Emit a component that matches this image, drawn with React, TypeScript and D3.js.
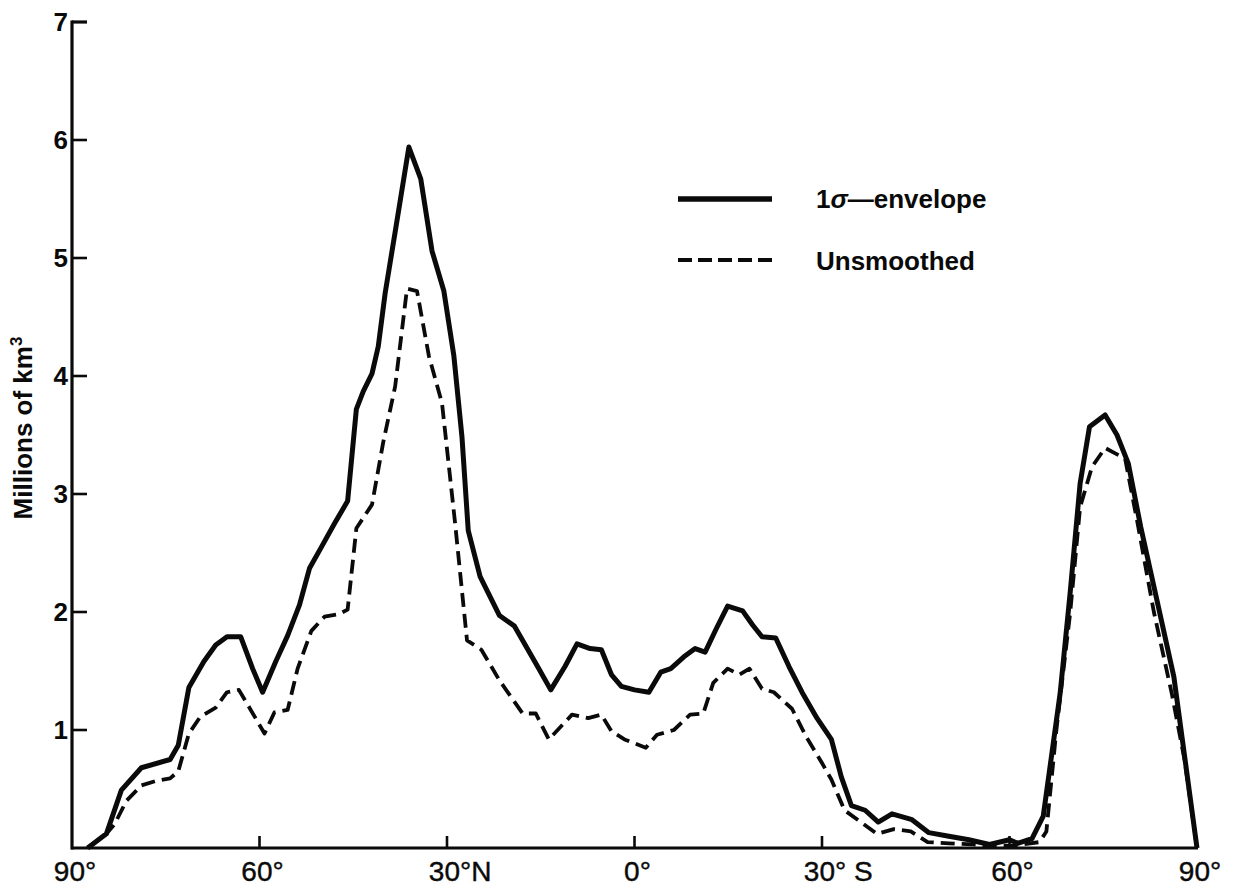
import React, { useEffect, useRef } from "react";
import * as d3 from "d3";

// Latitude (deg, north positive) and volume (millions of km³)
const envelopeLat = [
  87.5, 84.5, 82.1, 78.9, 74.3, 73.0, 71.3, 68.9, 67.0, 65.2, 63.0, 61.1, 59.5,
  57.4, 55.5, 53.6, 52.0, 50.1, 48.0, 45.9, 44.5, 43.4, 42.0, 41.0, 39.9, 38.3,
  36.1, 34.2, 32.4, 30.5, 28.9, 27.6, 26.6, 24.7, 21.6, 19.2, 15.3, 13.4, 11.1,
  9.2, 7.1, 5.3, 3.7, 2.1, 0.0, -2.3, -4.2, -5.8, -7.9, -9.7, -11.3, -13.1,
  -14.9, -17.3, -18.9, -20.4, -22.6, -24.7, -26.8, -29.2, -31.5, -33.1, -34.7,
  -36.9, -39.0, -41.2, -44.4, -47.1, -50.3, -53.5, -56.8, -60.0, -61.3, -63.6,
  -65.4, -68.1, -69.7, -71.3, -72.8, -75.3, -77.2, -79.0, -81.0, -86.3, -90.0,
];
const envelopeVol = [
  0.0, 0.12, 0.49, 0.68, 0.75, 0.87, 1.36, 1.58, 1.72, 1.79, 1.79, 1.52, 1.32,
  1.58, 1.8, 2.06, 2.37, 2.55, 2.75, 2.94, 3.72, 3.87, 4.02, 4.25, 4.7, 5.22,
  5.94, 5.67, 5.06, 4.72, 4.17, 3.48, 2.69, 2.3, 1.97, 1.88, 1.52, 1.34, 1.54,
  1.73, 1.69, 1.68, 1.47, 1.37, 1.34, 1.32, 1.49, 1.52, 1.62, 1.69, 1.66, 1.86,
  2.05, 2.01, 1.89, 1.79, 1.78, 1.54, 1.32, 1.1, 0.92, 0.6, 0.36, 0.32, 0.22,
  0.29, 0.24, 0.13, 0.1, 0.07, 0.03, 0.07, 0.04, 0.08, 0.27, 1.31, 2.16, 3.09,
  3.57, 3.67, 3.5, 3.26, 2.72, 1.45, 0.0,
];

const rawLat = [
  87.5, 84.5, 83.2, 81.3, 78.9, 76.5, 74.3, 73.0, 71.3, 69.5, 67.0, 65.2, 63.3,
  61.4, 59.2, 57.6, 55.5, 53.9, 51.7, 49.6, 47.4, 45.9, 44.5, 42.0, 40.2, 38.3,
  36.4, 34.8, 32.9, 30.8, 28.7, 26.8, 24.5, 21.6, 17.9, 15.8, 13.7, 10.0, 7.4,
  5.3, 3.7, 1.6, -1.8, -3.6, -6.3, -8.9, -11.0, -12.6, -14.9, -16.8, -18.4,
  -20.4, -22.3, -25.2, -27.5, -30.0, -31.5, -33.6, -35.7, -38.8, -41.5, -44.2,
  -46.9, -50.3, -54.1, -57.3, -60.5, -64.8, -65.9, -67.5, -69.7, -71.3, -73.2,
  -75.3, -78.5, -80.5, -83.1, -86.0, -88.0, -90.0,
];
const rawVol = [
  0.0, 0.12, 0.2, 0.4, 0.53, 0.57, 0.59, 0.65, 0.97, 1.11, 1.19, 1.32, 1.34,
  1.17, 0.97, 1.15, 1.17, 1.52, 1.84, 1.96, 1.98, 2.02, 2.71, 2.91, 3.44, 3.91,
  4.74, 4.72, 4.17, 3.77, 2.75, 1.76, 1.68, 1.42, 1.14, 1.14, 0.92, 1.13, 1.1,
  1.13, 0.99, 0.92, 0.85, 0.96, 1.0, 1.13, 1.14, 1.4, 1.52, 1.47, 1.52, 1.35,
  1.32, 1.18, 0.94, 0.72, 0.58, 0.32, 0.24, 0.12, 0.16, 0.14, 0.05, 0.04, 0.03,
  0.02, 0.02, 0.05, 0.14, 1.0, 1.99, 2.89, 3.23, 3.39, 3.3, 2.75, 2.0, 1.3,
  0.75, 0.0,
];

const latTicks = [90, 60, 30, 0, -30, -60, -90];
const latTickLabels = ["90°", "60°", "30°N", "0°", "30° S", "60°", "90°"];
const volTicks = [1, 2, 3, 4, 5, 6, 7];
const seriesNames = ["1σ—envelope", "Unsmoothed"];

const W = 1239;
const H = 887;
const FONT = "'Liberation Sans', Arial, Helvetica, sans-serif";

export default function App() {
  const ref = useRef<SVGSVGElement | null>(null);

  useEffect(() => {
    const svg = d3.select(ref.current);
    svg.selectAll("*").remove();

    const x = d3.scaleLinear().domain([90, -90]).range([72, 1197]);
    const y = d3.scaleLinear().domain([0, 7]).range([848, 22]);

    const ink = "#0a0a0a";
    const g = svg.append("g");

    // axes
    g.append("line")
      .attr("x1", x(90) - 1).attr("x2", x(-90) + 1)
      .attr("y1", y(0)).attr("y2", y(0))
      .attr("stroke", ink).attr("stroke-width", 3.2);
    g.append("line")
      .attr("x1", x(90)).attr("x2", x(90))
      .attr("y1", y(0) + 1.5).attr("y2", y(7) - 1.5)
      .attr("stroke", ink).attr("stroke-width", 3.2);

    // y ticks (inward) and labels
    volTicks.forEach((v) => {
      g.append("line")
        .attr("x1", x(90)).attr("x2", x(90) + 15)
        .attr("y1", y(v)).attr("y2", y(v))
        .attr("stroke", ink).attr("stroke-width", v === 7 ? 3.2 : 2.6);
      g.append("text")
        .attr("x", 68).attr("y", y(v) + 9)
        .attr("text-anchor", "end")
        .attr("font-family", FONT).attr("font-weight", "bold")
        .attr("font-size", 26).attr("fill", ink)
        .text(String(v));
    });

    // x ticks (inward) and labels
    latTicks.forEach((lat, i) => {
      if (lat !== 90 && lat !== -90) {
        g.append("line")
          .attr("x1", x(lat)).attr("x2", x(lat))
          .attr("y1", y(0)).attr("y2", y(0) - 12)
          .attr("stroke", ink).attr("stroke-width", 2.6);
      }
      const label = latTickLabels[i];
      const m = label.match(/^(\d+°)(.*)$/);
      const main = m ? m[1] : label;
      const rest = m ? m[2] : "";
      const t = g.append("text")
        .attr("y", 881)
        .attr("font-family", FONT).attr("font-size", 28).attr("fill", ink)
        .attr("stroke", ink).attr("stroke-width", 0.4)
        .text(main + rest);
      const probe = g.append("text")
        .attr("font-family", FONT).attr("font-size", 28)
        .text(main);
      const mw = (probe.node() as SVGTextElement).getComputedTextLength();
      probe.remove();
      t.attr("x", x(lat) - mw / 2 + 3);
    });

    // y-axis title
    const title = g.append("text")
      .attr("transform", `translate(32, 428) rotate(-90)`)
      .attr("text-anchor", "middle")
      .attr("font-family", FONT).attr("font-weight", "bold")
      .attr("font-size", 26).attr("fill", ink);
    title.append("tspan").text("Millions of km");
    title.append("tspan").attr("dy", -10).attr("font-size", 17).text("3");

    // series lines
    const line = d3.line<[number, number]>()
      .x((d) => x(d[0]))
      .y((d) => y(d[1]))
      .curve(d3.curveLinear);

    const envelope = envelopeLat.map((l, i) => [l, envelopeVol[i]] as [number, number]);
    const raw = rawLat.map((l, i) => [l, rawVol[i]] as [number, number]);

    g.append("path")
      .attr("d", line(raw) as string)
      .attr("fill", "none").attr("stroke", ink)
      .attr("stroke-width", 3.8)
      .attr("stroke-dasharray", "14 7")
      .attr("stroke-linejoin", "round");

    g.append("path")
      .attr("d", line(envelope) as string)
      .attr("fill", "none").attr("stroke", ink)
      .attr("stroke-width", 5)
      .attr("stroke-linejoin", "round");

    // legend
    const legend = g.append("g");
    legend.append("line")
      .attr("x1", 678).attr("x2", 772).attr("y1", 199).attr("y2", 199)
      .attr("stroke", ink).attr("stroke-width", 5.5);
    legend.append("line")
      .attr("x1", 678).attr("x2", 772).attr("y1", 260).attr("y2", 260)
      .attr("stroke", ink).attr("stroke-width", 4.2)
      .attr("stroke-dasharray", "14 6");
    const l1 = legend.append("text")
      .attr("x", 816).attr("y", 208)
      .attr("font-family", FONT).attr("font-weight", "bold")
      .attr("font-size", 26).attr("fill", ink);
    const parts = seriesNames[0].split("σ");
    l1.append("tspan").text(parts[0]);
    l1.append("tspan").attr("font-style", "italic").text("σ");
    l1.append("tspan").text(parts[1]);
    legend.append("text")
      .attr("x", 816).attr("y", 270)
      .attr("font-family", FONT).attr("font-weight", "bold")
      .attr("font-size", 26).attr("fill", ink)
      .text(seriesNames[1]);
  }, []);

  return (
    <svg
      ref={ref}
      width={W}
      height={H}
      style={{ position: "absolute", left: 0, top: 0, background: "#fff" }}
    />
  );
}
